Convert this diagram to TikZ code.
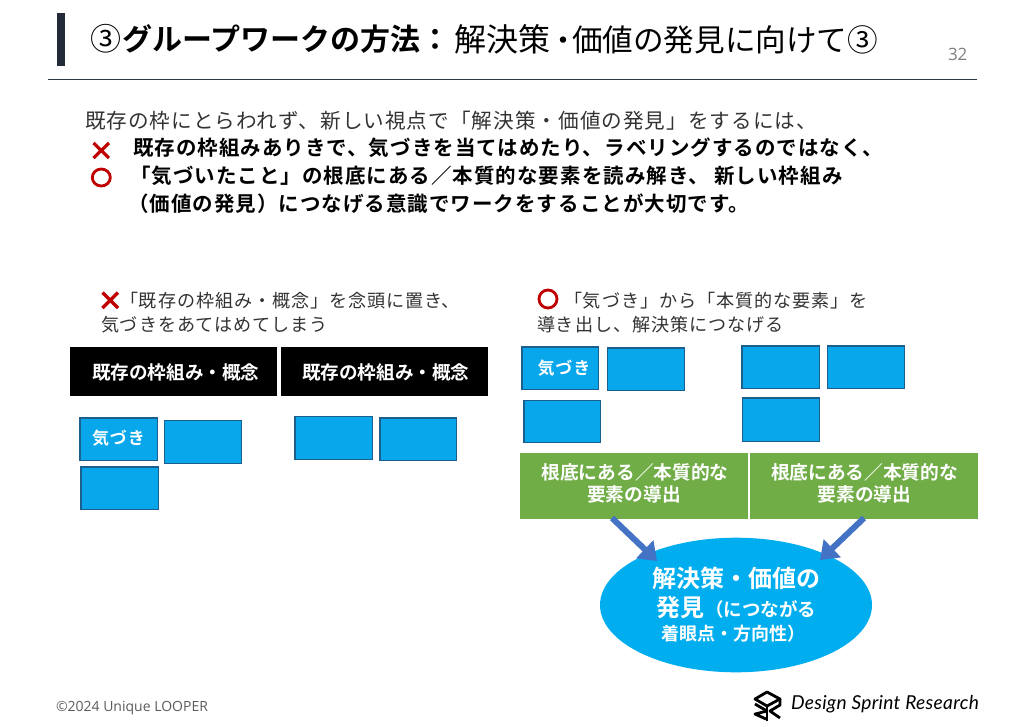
\documentclass[tikz,border=0pt]{standalone}
\usepackage{fontspec}
\usetikzlibrary{arrows.meta,shapes.geometric}
\newfontfamily\jp[LetterSpace=5]{Noto Sans CJK JP}
\newfontfamily\jpb[LetterSpace=5]{Noto Sans CJK JP Bold}
\newfontfamily\jptight{Noto Sans CJK JP}
\newfontfamily\jptightb{Noto Sans CJK JP Bold}
\newfontfamily\opensans{Open Sans}
\newfontfamily\logofont[LetterSpace=1.5]{Lato Italic}
\newcommand{\fs}[1]{\fontsize{#1}{#1}\selectfont}
\definecolor{bluebox}{HTML}{08A6EA}
\definecolor{blueedge}{HTML}{1C5F8C}
\definecolor{greenbox}{HTML}{70AD47}
\definecolor{ellblue}{HTML}{00AEEF}
\definecolor{arrowblue}{HTML}{4472C4}
\definecolor{markred}{HTML}{C00000}
\definecolor{barnavy}{HTML}{232B3A}
\definecolor{rulecol}{HTML}{2B3A45}
\definecolor{textgray}{HTML}{333333}
\tikzset{
  x=1pt,y=-1pt,
  lbl/.style={inner sep=0pt,outer sep=0pt,anchor=west,text=black},
  thinline/.style={lbl,font=\jp\fs{20.6},text=textgray},
  boldline/.style={lbl,font=\jpb\fs{20.5},text=black},
  capline/.style={lbl,font=\jp\fs{18.1},text=textgray},
  whitecap/.style={inner sep=0pt,outer sep=0pt,text=white,font=\jpb\fs{18},align=center},
  xmark/.style={draw=markred,line width=3.2pt},
  omark/.style={draw=markred,line width=2.8pt,ellipse,minimum width=18pt,minimum height=17pt,inner sep=0pt},
  conn/.style={draw=arrowblue,line width=6pt,-{Triangle[length=17pt,width=24pt]}},
}
\newcommand{\card}[5]{\node[draw=blueedge,line width=1.2pt,fill=bluebox,inner sep=0pt,minimum width=#3pt-#1pt-1.2pt,minimum height=#4pt-#2pt-1.2pt,anchor=north west] (#5) at (#1,#2) {};}
\newcommand{\solid}[6]{\node[fill=#6,inner sep=0pt,minimum width=#3pt-#1pt,minimum height=#4pt-#2pt,anchor=north west] (#5) at (#1,#2) {};}
\begin{document}
\begin{tikzpicture}
\useasboundingbox (0,0) rectangle (1024,726);
\fill[white] (0,0) rectangle (1024,726);
% header
\fill[barnavy] (57,13) rectangle (64.5,66);
\draw[rulecol,line width=1pt] (48,79) -- (977,79);
\node[lbl,font=\jptight\fs{31}] (t0) at (90,39) {③};
\node[lbl,font=\jptightb\fs{30}] (t1) at (122,39) {グループワークの方法：};
\node[lbl,font=\jptight] (t2) at (454,39) {\fs{32}解決策\hspace{-2pt}\fs{30}・\hspace{-6pt}\fs{30.6}価値の発見に向けて③};
\node[lbl,font=\opensans\fs{17},text=gray] (pg) at (948,54) {32};
% intro
\node[thinline] (i0) at (85,121) {既存の枠にとらわれず、新しい視点で「解決策・価値の発見」をするには、};
\node[boldline] (i1) at (133,148) {既存の枠組みありきで、気づきを当てはめたり、ラベリングするのではなく、};
\node[boldline] (i2) at (130,176) {「気づいたこと」の根底にある／本質的な要素を読み解き、 新しい枠組み};
\node[boldline] (i3) at (128,204) {（価値の発見）につなげる意識でワークをすることが大切です。};
\coordinate (xa1) at (93.5,143); \coordinate (xa2) at (109,158);
\coordinate (xa3) at (109,143); \coordinate (xa4) at (93.5,158);
\draw[xmark] (xa1) -- (xa2) (xa3) -- (xa4);
\node[omark] (oa) at (101.3,177.5) {};
% left caption
\coordinate (xb1) at (102.5,292.5); \coordinate (xb2) at (118,308);
\coordinate (xb3) at (118,292.5); \coordinate (xb4) at (102.5,308);
\draw[xmark] (xb1) -- (xb2) (xb3) -- (xb4);
\node[capline] (c1) at (120,301) {「既存の枠組み・概念」を念頭に置き、};
\node[capline] (c2) at (101,325) {気づきをあてはめてしまう};
% right caption
\node[omark,minimum height=18pt] (ob) at (548,299) {};
\node[capline] (c3) at (564,301) {「気づき」から「本質的な要素」を};
\node[capline] (c4) at (537,325) {導き出し、解決策につなげる};
% black bars
\solid{70}{347}{276.7}{396}{b1}{black}
\solid{280.7}{347}{487.3}{396}{b2}{black}
\node[lbl,text=white,font=\jptightb\fs{18.6}] at (92,372) {既存の枠組み・概念};
\node[lbl,text=white,font=\jptightb\fs{18.6}] at (302,372) {既存の枠組み・概念};
% left cards
\card{79.3}{417.3}{157.7}{461}{l1}
\card{164}{420}{242}{464}{l2}
\card{80.3}{466.3}{158.7}{510}{l3}
\card{294.3}{416}{372.7}{460}{l4}
\card{379.3}{417.3}{457.3}{461}{l5}
\node[whitecap,font=\jpb\fs{17}] at (118.5,438) {気づき};
% right cards
\card{521.3}{346.3}{599.3}{390.3}{r1}
\card{606.7}{347.3}{685}{391.3}{r2}
\card{523.3}{400}{601.3}{443.3}{r3}
\card{741.3}{345.3}{819.7}{389.3}{r4}
\card{827}{345.3}{905.3}{389}{r5}
\card{742}{397.3}{820}{441.7}{r6}
\node[whitecap,font=\jpb\fs{17}] at (564,368) {気づき};
% green
\solid{520}{453}{747.7}{518.3}{g1}{greenbox}
\solid{750}{453}{977.7}{518.3}{g2}{greenbox}
\node[whitecap,font=\jptightb\fs{18.7}] at (635,472.5) {根底にある／本質的な};
\node[whitecap,font=\jptightb\fs{18.7}] at (634,494.5) {要素の導出};
\node[whitecap,font=\jptightb\fs{18.7}] at (864.5,472.5) {根底にある／本質的な};
\node[whitecap,font=\jptightb\fs{18.7}] at (864.5,494.5) {要素の導出};
% ellipse
\node[ellipse,fill=ellblue,inner sep=0pt,minimum width=272pt,minimum height=134.6pt] (sol) at (736,605) {};
\node[lbl,text=white,font=\jptightb\fs{24}] (s1) at (652,578) {解決策・価値の};
\node[lbl,text=white,font=\jptightb\fs{24}] (s2) at (656,607) {発見};
\node[lbl,text=white,font=\jptightb\fs{18.5}] (s3) at (705,609) {（につながる};
\node[lbl,text=white,font=\jptightb\fs{18}] (s4) at (661,634) {着眼点・方向性）};
% arrows
\coordinate (a1s) at (612,518); \coordinate (a1e) at (657,561);
\coordinate (a2s) at (864,518); \coordinate (a2e) at (820,560);
\draw[conn] (a1s) -- (a1e);
\draw[conn] (a2s) -- (a2e);
% footer
\node[lbl,font=\opensans\fs{14},text=textgray!80] (cr) at (56,708) {©2024 Unique LOOPER};
\node[lbl,font=\logofont\fs{19.2}] (lg) at (791,704) {Design Sprint Research};
\begin{scope}[black,line width=2.8pt,line join=round]
\draw (755,699) -- (767,692) -- (780,699) -- (767,706) -- cycle;
\draw (755,704) -- (767,711) (780,699) -- (780,705) -- (770,711) -- (780,718);
\draw (767,706) -- (767,721);
\draw (767,711) -- (755,714) -- (766,719);
\end{scope}
\end{tikzpicture}
\end{document}
